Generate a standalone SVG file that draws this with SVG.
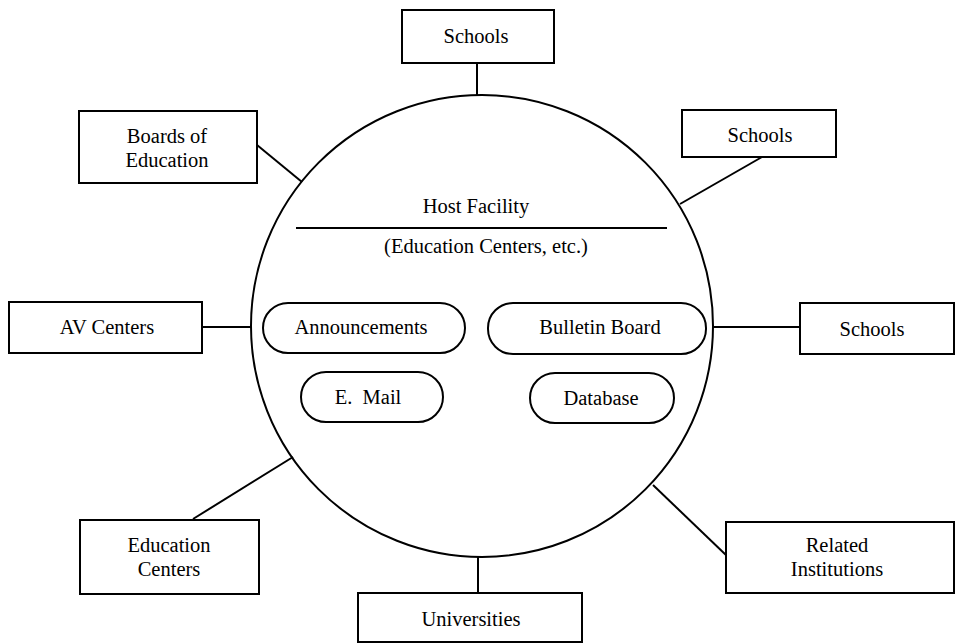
<svg xmlns="http://www.w3.org/2000/svg" width="955" height="643" viewBox="0 0 955 643">
<style>
.b{fill:#fff;stroke:#000;stroke-width:2}
.c{fill:none;stroke:#000;stroke-width:2}
.t{font-family:"Liberation Serif","Times New Roman",serif;font-size:20.5px;fill:#000;text-anchor:middle}
</style>
<rect width="955" height="643" fill="#fff"/>
<g id="connectors" class="c">
<line x1="477" y1="63" x2="477" y2="95"/>
<line x1="257" y1="145" x2="302" y2="182"/>
<line x1="762" y1="157" x2="680" y2="204"/>
<line x1="202" y1="327" x2="252" y2="327"/>
<line x1="713" y1="327" x2="800" y2="327"/>
<line x1="293" y1="457" x2="193" y2="519"/>
<line x1="653" y1="485" x2="727" y2="556"/>
<line x1="478" y1="557" x2="478" y2="593"/>
</g>
<g id="host">
<circle class="c" cx="482" cy="326" r="231"/>
<line class="c" x1="296" y1="228" x2="667" y2="228"/>
<text class="t" x="476" y="213">Host Facility</text>
<text class="t" x="486" y="253">(Education Centers, etc.)</text>
</g>
<g id="announcements"><rect class="b" x="263" y="303" width="202" height="50" rx="25"/><text class="t" x="361" y="334">Announcements</text></g>
<g id="bulletin"><rect class="b" x="488" y="303" width="218" height="51" rx="25"/><text class="t" x="600" y="334">Bulletin Board</text></g>
<g id="email"><rect class="b" x="301" y="372" width="142" height="50" rx="25"/><text class="t" x="368" y="404">E.&#160;&#160;Mail</text></g>
<g id="database"><rect class="b" x="530" y="373" width="144" height="50" rx="25"/><text class="t" x="601" y="405">Database</text></g>
<g id="schools-top"><rect class="b" x="402" y="10" width="152" height="53"/><text class="t" x="476" y="43">Schools</text></g>
<g id="boards"><rect class="b" x="79" y="111" width="178" height="72"/><text class="t" x="167" y="143">Boards of</text><text class="t" x="167" y="167">Education</text></g>
<g id="schools-right"><rect class="b" x="682" y="110" width="154" height="47"/><text class="t" x="760" y="142">Schools</text></g>
<g id="av"><rect class="b" x="9" y="302" width="193" height="51"/><text class="t" x="107" y="334">AV Centers</text></g>
<g id="schools-mid"><rect class="b" x="800" y="303" width="154" height="51"/><text class="t" x="872" y="336">Schools</text></g>
<g id="edcenters"><rect class="b" x="80" y="520" width="179" height="74"/><text class="t" x="169" y="552">Education</text><text class="t" x="169" y="576">Centers</text></g>
<g id="related"><rect class="b" x="726" y="522" width="228" height="71"/><text class="t" x="837" y="552">Related</text><text class="t" x="837" y="576">Institutions</text></g>
<g id="universities"><rect class="b" x="358" y="593" width="224" height="49"/><text class="t" x="471" y="626">Universities</text></g>
</svg>
